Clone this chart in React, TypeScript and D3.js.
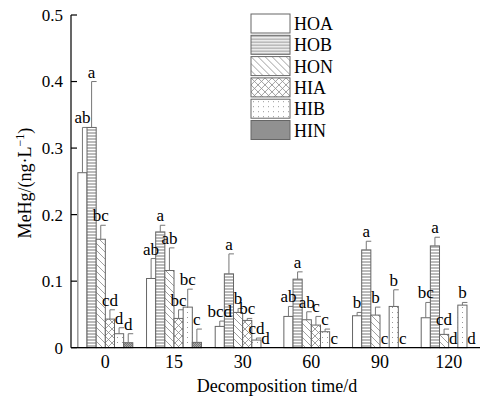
import React from 'react';
import * as d3 from 'd3';

const days = ['0', '15', '30', '60', '90', '120'];
const seriesNames = ['HOA', 'HOB', 'HON', 'HIA', 'HIB', 'HIN'];

const hoa = [0.263, 0.104, 0.032, 0.047, 0.048, 0.045];
const hob = [0.331, 0.174, 0.111, 0.103, 0.147, 0.153];
const hon = [0.163, 0.116, 0.053, 0.042, 0.049, 0.02];
const hia = [0.043, 0.044, 0.041, 0.034, 0, 0];
const hib = [0.021, 0.061, 0.0115, 0.024, 0.062, 0.064];
const hin = [0.0075, 0.008, 0, 0, 0, 0];

const hoaErr = [0.068, 0.03, 0.008, 0.015, 0.005, 0.023];
const hobErr = [0.069, 0.01, 0.03, 0.011, 0.013, 0.013];
const honErr = [0.021, 0.034, 0.006, 0.012, 0.012, 0.008];
const hiaErr = [0.014, 0.013, 0.003, 0.013, 0, 0];
const hibErr = [0.009, 0.027, 0.003, 0.004, 0.025, 0.004];
const hinErr = [0.0135, 0.02, 0, 0, 0, 0];

const hoaSig = ['ab', 'ab', 'bcd', 'ab', 'b', 'bc'];
const hobSig = ['a', 'a', 'a', 'a', 'a', 'a'];
const honSig = ['bc', 'ab', 'b', 'ab', 'b', 'cd'];
const hiaSig = ['cd', 'bc', 'bc', 'c', 'c', 'd'];
const hibSig = ['d', 'bc', 'cd', 'c', 'b', 'b'];
const hinSig = ['d', 'c', 'd', 'c', 'c', 'd'];

const yTicks = [0, 0.1, 0.2, 0.3, 0.4, 0.5];

const values = [hoa, hob, hon, hia, hib, hin];
const errors = [hoaErr, hobErr, honErr, hiaErr, hibErr, hinErr];
const sigs = [hoaSig, hobSig, honSig, hiaSig, hibSig, hinSig];

const W = 482;
const H = 401;
const font = '"Liberation Serif", "Times New Roman", serif';
const stroke = '#666';

export default function App() {
  const x = d3.scaleBand<string>().domain(days).range([71, 483]).paddingInner(0.2).paddingOuter(0.1);
  const xs = d3.scaleBand<string>().domain(seriesNames).range([0, x.bandwidth()]);
  const y = d3.scaleLinear().domain([0, 0.5]).range([347.7, 15]);
  const fills = ['#fff', 'url(#pHOB)', 'url(#pHON)', 'url(#pHIA)', 'url(#pHIB)', 'url(#pHIN)'];

  const bars = [];
  const labels = [];
  seriesNames.forEach((s, si) => {
    days.forEach((d, di) => {
      const v = values[si][di];
      const e = errors[si][di];
      const bx = x(d)! + xs(s)!;
      const bw = xs.bandwidth();
      const cx = bx + bw / 2;
      if (v > 0) {
        bars.push(
          <rect key={`r${si}-${di}`} x={bx} y={y(v)} width={bw} height={y(0) - y(v)}
            fill={fills[si]} stroke={stroke} strokeWidth={1} />
        );
      }
      if (e > 0) {
        bars.push(
          <g key={`e${si}-${di}`} stroke="#777" strokeWidth={1}>
            <line x1={cx} x2={cx} y1={y(v)} y2={y(v + e)} />
            <line x1={cx} x2={cx + 5} y1={y(v + e)} y2={y(v + e)} />
          </g>
        );
      }
      const ly = Math.min(y(v + e) - 4, 345);
      labels.push(
        <text key={`t${si}-${di}`} x={cx} y={ly} textAnchor="middle" fontSize={17}>{sigs[si][di]}</text>
      );
    });
  });

  return (
    <svg width={W} height={H} style={{ position: 'absolute', left: 0, top: 0, background: '#fff' }}
      fontFamily={font}>
      <defs>
        <pattern id="pHOB" width={4} height={3} patternUnits="userSpaceOnUse">
          <rect width={4} height={3} fill="#fff" />
          <line x1={0} x2={4} y1={1} y2={1} stroke="#777" strokeWidth={1} />
        </pattern>
        <pattern id="pHON" width={7} height={7} patternUnits="userSpaceOnUse">
          <rect width={7} height={7} fill="#fff" />
          <path d="M0,0 L7,7 M-1,6 L1,8 M6,-1 L8,1" stroke="#888" strokeWidth={0.8} />
        </pattern>
        <pattern id="pHIA" width={7} height={7} patternUnits="userSpaceOnUse">
          <rect width={7} height={7} fill="#fff" />
          <path d="M0,0 L7,7 M-1,6 L1,8 M6,-1 L8,1 M7,0 L0,7 M-1,1 L1,-1 M6,8 L8,6" stroke="#888" strokeWidth={0.8} />
        </pattern>
        <pattern id="pHIB" width={5} height={5} patternUnits="userSpaceOnUse">
          <rect width={5} height={5} fill="#fff" />
          <rect x={2} y={2} width={1} height={1} fill="#999" />
        </pattern>
        <pattern id="pHIN" width={2} height={2} patternUnits="userSpaceOnUse">
          <rect width={2} height={2} fill="#aaa" />
          <rect width={1} height={1} fill="#777" />
          <rect x={1} y={1} width={1} height={1} fill="#777" />
        </pattern>
      </defs>

      {bars}
      {labels}

      <line x1={71} x2={480} y1={y(0)} y2={y(0)} stroke="#000" strokeWidth={1.2} />
      <line x1={71} x2={71} y1={y(0.5)} y2={y(0)} stroke="#000" strokeWidth={1.2} />
      {yTicks.map(t => (
        <g key={t}>
          <line x1={71} x2={77} y1={y(t)} y2={y(t)} stroke="#000" strokeWidth={1.2} />
          <text x={63} y={y(t)} dy="0.35em" textAnchor="end" fontSize={17}>{d3.format('')(t)}</text>
        </g>
      ))}
      {days.map(d => (
        <text key={d} x={x(d)! + x.bandwidth() / 2} y={368} textAnchor="middle" fontSize={18}>{d}</text>
      ))}
      <text x={277} y={392} textAnchor="middle" fontSize={18}>Decomposition time/d</text>
      <text transform="translate(31,183) rotate(-90)" textAnchor="middle" fontSize={18}>
        MeHg/(ng·L<tspan fontSize={12} dy={-7}>−1</tspan><tspan dy={7}>)</tspan>
      </text>

      {seriesNames.map((s, i) => (
        <g key={s} transform={`translate(251,${14 + i * 21.3})`}>
          <rect width={39} height={19} fill={fills[i]} stroke={stroke} strokeWidth={1} />
          <text x={43} y={16} fontSize={18}>{s}</text>
        </g>
      ))}
    </svg>
  );
}
